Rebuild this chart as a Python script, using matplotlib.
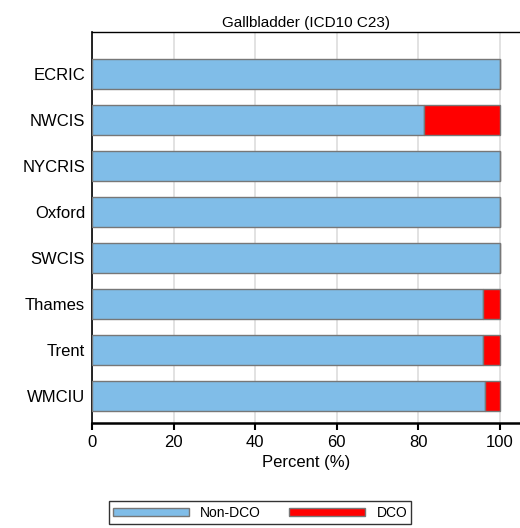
import numpy as np
import matplotlib.pyplot as plt

registries = ['ECRIC', 'NWCIS', 'NYCRIS', 'Oxford', 'SWCIS', 'Thames', 'Trent', 'WMCIU']
non_dco = [100, 81.5, 100, 100, 100, 95.8, 95.8, 96.3]
dco = [100 - v for v in non_dco]

plt.rcParams['font.family'] = ['Liberation Sans', 'DejaVu Sans']
fig = plt.figure(figsize=(5.2, 5.28), dpi=100)
ax = fig.add_axes([0.177, 0.199, 0.823, 0.74])

y = np.arange(len(registries))
ax.barh(y, non_dco, height=0.65, color='#80bde8', edgecolor='#777777', linewidth=1, label='Non-DCO', zorder=3)
ax.barh(y, dco, left=non_dco, height=0.65, color='#ff0000', edgecolor='#777777', linewidth=1, label='DCO', zorder=3)

ax.set_xlim(0, 105)
ax.set_ylim(7.59, -0.91)
ax.set_yticks(y)
ax.set_yticklabels(registries, fontsize=12)
ax.set_xticks([0, 20, 40, 60, 80, 100])
ax.tick_params(axis='x', labelsize=12, length=5, width=1.5)
ax.tick_params(axis='y', length=0, pad=5)
ax.grid(axis='x', color='#dddddd', linewidth=1.2, zorder=0)
ax.spines['right'].set_visible(False)
ax.spines['left'].set_linewidth(1.2)
ax.spines['bottom'].set_linewidth(1.8)
ax.spines['top'].set_linewidth(1)
ax.set_xlabel('Percent (%)', fontsize=12)
ax.set_title('Gallbladder (ICD10 C23)', fontsize=11, pad=4)

leg = fig.legend(loc='lower center', bbox_to_anchor=(0.5, -0.005), ncol=2, fontsize=10,
                 frameon=True, fancybox=False, edgecolor='black', handlelength=5.5,
                 handleheight=0.5, columnspacing=2, borderpad=0.3)
leg.get_frame().set_linewidth(1)

fig.savefig('out.png', dpi=100)
